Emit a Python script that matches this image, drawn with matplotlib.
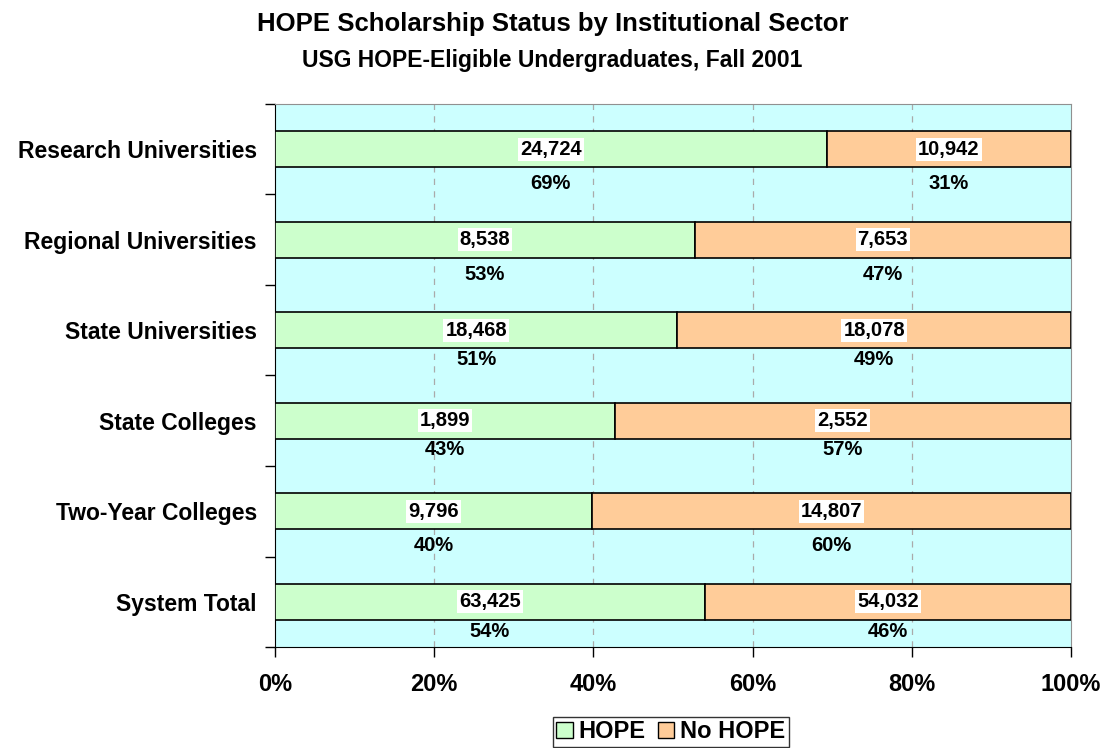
import numpy as np
import matplotlib.pyplot as plt
from matplotlib.patches import Patch

plt.rcParams['font.family'] = ['Liberation Sans', 'DejaVu Sans']
plt.rcParams['font.weight'] = 'bold'

# Datos
sectores = ['Research Universities', 'Regional Universities', 'State Universities',
            'State Colleges', 'Two-Year Colleges', 'System Total']
hope = [24724, 8538, 18468, 1899, 9796, 63425]
no_hope = [10942, 7653, 18078, 2552, 14807, 54032]
ticks_x = [0, 20, 40, 60, 80, 100]

# Desplazamiento vertical de las etiquetas de porcentaje (posición, no datos)
desplaz = [0.38, 0.38, 0.32, 0.32, 0.38, 0.33]

hope = np.array(hope, dtype=float)
no_hope = np.array(no_hope, dtype=float)
total = hope + no_hope
p_hope = hope / total * 100
p_no = no_hope / total * 100

verde = '#CCFFCC'
naranja = '#FFCC99'
fondo = '#CCFFFF'

fig = plt.figure(figsize=(11.05, 7.48), dpi=100)
ax = fig.add_axes([0.2489, 0.135, 0.7203, 0.726])
ax.set_facecolor(fondo)

y = np.arange(len(sectores))
alto = 0.4
ax.barh(y, p_hope, height=alto, color=verde, edgecolor='black', linewidth=1.2, zorder=3)
ax.barh(y, p_no, left=p_hope, height=alto, color=naranja, edgecolor='black', linewidth=1.2, zorder=3)

caja = dict(facecolor='white', edgecolor='none', pad=1.5)
for i in range(len(sectores)):
    xc1 = p_hope[i] / 2
    xc2 = p_hope[i] + p_no[i] / 2
    ax.text(xc1, y[i], f'{int(hope[i]):,}', ha='center', va='center', fontsize=14.5,
            bbox=caja, zorder=4)
    ax.text(xc2, y[i], f'{int(no_hope[i]):,}', ha='center', va='center', fontsize=14.5,
            bbox=caja, zorder=4)
    ax.text(xc1, y[i] + desplaz[i], f'{p_hope[i]:.0f}%', ha='center', va='center',
            fontsize=14.5, zorder=4)
    ax.text(xc2, y[i] + desplaz[i], f'{p_no[i]:.0f}%', ha='center', va='center',
            fontsize=14.5, zorder=4)

ax.set_xlim(0, 100)
ax.set_ylim(len(sectores) - 0.5, -0.5)
ax.set_xticks(ticks_x)
ax.set_xticklabels([f'{t}%' for t in ticks_x], fontsize=17)
ax.set_yticks(y)
ax.set_yticklabels(sectores, fontsize=16.5)
ax.set_yticks(np.arange(-0.5, len(sectores), 1), minor=True)
ax.tick_params(axis='y', which='major', length=0, pad=13)
ax.tick_params(axis='y', which='minor', length=7, direction='out', width=1)
ax.tick_params(axis='x', length=7, direction='out', width=1, pad=12)

for x in ticks_x[1:-1]:
    ax.axvline(x, color='#AAAAAA', linestyle=(0, (5, 5)), linewidth=0.9, zorder=1)

ax.spines['top'].set_color('#909090')
ax.spines['right'].set_color('#909090')
ax.spines['left'].set_color('black')
ax.spines['bottom'].set_color('black')

fig.text(0.5, 0.968, 'HOPE Scholarship Status by Institutional Sector',
         ha='center', va='center', fontsize=18.5)
fig.text(0.5, 0.919, 'USG HOPE-Eligible Undergraduates, Fall 2001',
         ha='center', va='center', fontsize=16.5)

handles = [Patch(facecolor=verde, edgecolor='black', label='HOPE'),
           Patch(facecolor=naranja, edgecolor='black', label='No HOPE')]
fig.legend(handles=handles, loc='center', bbox_to_anchor=(0.607, 0.022), ncol=2,
           fontsize=17, frameon=True, fancybox=False, edgecolor='black',
           handlelength=0.7, handleheight=0.7, handletextpad=0.25, columnspacing=0.5,
           borderpad=0.15, borderaxespad=0)

fig.savefig('out.png', dpi=100)
